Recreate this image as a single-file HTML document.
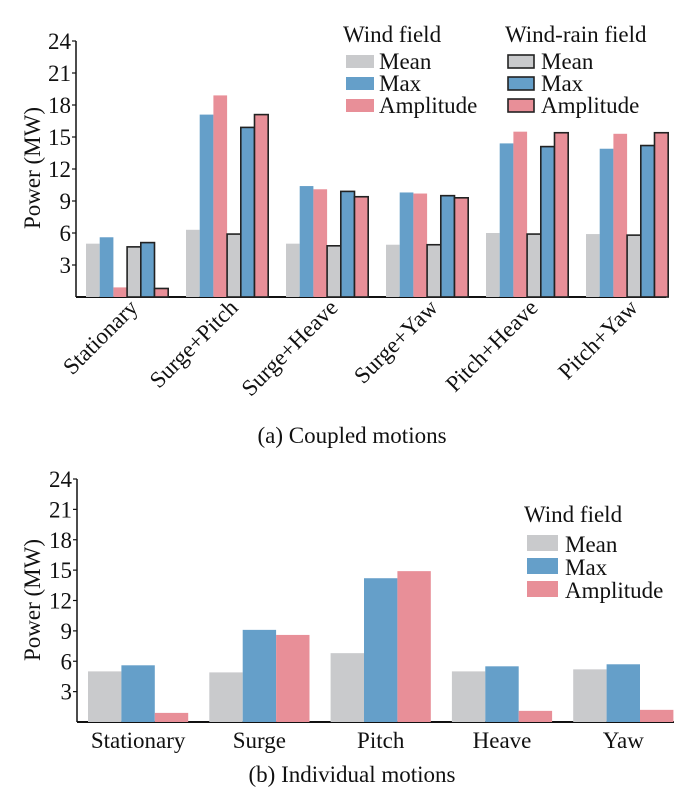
<!DOCTYPE html>
<html><head><meta charset="utf-8"><style>
body{margin:0;background:#fff;}
svg text{font-family:"Liberation Serif",serif;fill:#111;}
</style></head><body>
<svg id="c" width="682" height="791" viewBox="0 0 682 791" xmlns="http://www.w3.org/2000/svg"></svg>
<script>
const topCats=["Stationary","Surge+Pitch","Surge+Heave","Surge+Yaw","Pitch+Heave","Pitch+Yaw"];
const windMean=[5.0,6.3,5.0,4.9,6.0,5.9];
const windMax=[5.6,17.1,10.4,9.8,14.4,13.9];
const windAmp=[0.9,18.9,10.1,9.7,15.5,15.3];
const rainMean=[4.7,5.9,4.8,4.9,5.9,5.8];
const rainMax=[5.1,15.9,9.9,9.5,14.1,14.2];
const rainAmp=[0.8,17.1,9.4,9.3,15.4,15.4];
const botCats=["Stationary","Surge","Pitch","Heave","Yaw"];
const indMean=[5.0,4.9,6.8,5.0,5.2];
const indMax=[5.6,9.1,14.2,5.5,5.7];
const indAmp=[0.9,8.6,14.9,1.1,1.2];
const yTicks=[3,6,9,12,15,18,21,24];
const C={mean:"#c9cacc",max:"#659fc9",amp:"#e88f98"};
const svg=document.getElementById('c');
const NS="http://www.w3.org/2000/svg";
function el(t,a,p){const e=document.createElementNS(NS,t);for(const k in a)e.setAttribute(k,a[k]);(p||svg).appendChild(e);return e;}
function txt(s,a,p){const e=el('text',a,p);e.textContent=s;return e;}

function axes(g,x0,x1,y0,yTop){
  const y=v=>y0-(y0-yTop)*v/24;
  const ax=el('line',{x1:x0,y1:yTop,x2:x0,y2:y0,stroke:'#111','stroke-width':1.5},g);
  
  
  const bx=el('line',{x1:x0,y1:y0,x2:x1,y2:y0,stroke:'#111','stroke-width':2},g);
  
  
  yTicks.forEach(v=>{
    const tk=el('line',{x1:x0-4,y1:y(v),x2:x0,y2:y(v),stroke:'#111','stroke-width':1.2},g);
    
    
    const t=txt(String(v),{x:x0-5,y:y(v)+8,'font-size':23,'text-anchor':'end'},g);
    
    
  });
  return y;
}
function ytitle(g,x,cy){
  const t=txt("Power (MW)",{x:x,y:cy,'font-size':23,'text-anchor':'middle',transform:`rotate(-90 ${x} ${cy})`},g);
  
  
}
function bar(g,x,w,y,y0,fill,stroke,name){
  const a={x:x,y:y,width:w,height:y0-y,fill:fill};
  if(stroke){a.stroke='#222';a['stroke-width']=1.6;}
  const r=el('rect',a,g);
  
  
}
function legend(g,x,y,title,stroke,sw,sh,gap,tx){
  const t=txt(title,{x:x-3,y:y,'font-size':23},g);
  
  
  [["Mean",C.mean],["Max",C.max],["Amplitude",C.amp]].forEach((d,i)=>{
    const yy=y+13+i*gap;
    const a={x:x,y:yy,width:sw,height:sh,fill:d[1]};
    if(stroke){a.stroke='#222';a['stroke-width']=1.6;}
    const r=el('rect',a,g);
    
    
    const l=txt(d[0],{x:x+tx,y:yy+sh+1,'font-size':23},g);
    
    
  });
}

// Top chart
const gA=el('g',{});


const yA=axes(gA,76,666,297,41);
ytitle(gA,40,168);
const bw=13.7;
topCats.forEach((c,i)=>{
  const gx=86+i*100;
  const sets=[[windMean,C.mean,0],[windMax,C.max,0],[windAmp,C.amp,0],[rainMean,C.mean,1],[rainMax,C.max,1],[rainAmp,C.amp,1]];
  sets.forEach((s,j)=>bar(gA,gx+j*bw,bw,yA(s[0][i]),297,s[1],s[2],'bar-'+c.toLowerCase().replace('+','-')));
  const cx=gx+3*bw+12, cy=309;
  const t=txt(c,{x:cx,y:cy,'font-size':23,'text-anchor':'end',transform:`rotate(-45 ${cx} ${cy})`},gA);
  
  
});
legend(gA,346,42,"Wind field",false,28,13,22,33);
legend(gA,508,42,"Wind-rain field",true,26,13,22,33);
const capA=txt("(a) Coupled motions",{x:352,y:443,'font-size':23,'text-anchor':'middle'},gA);



// Bottom chart
const gB=el('g',{});


const yB=axes(gB,77,674,722,479);
ytitle(gB,40,600);
const bw2=33.4;
botCats.forEach((c,i)=>{
  const gx=88+i*121.3;
  [[indMean,C.mean],[indMax,C.max],[indAmp,C.amp]].forEach((s,j)=>bar(gB,gx+j*bw2,bw2,yB(s[0][i]),722,s[1],false,'bar-'+c.toLowerCase()));
  const t=txt(c,{x:gx+1.5*bw2,y:748,'font-size':23,'text-anchor':'middle'},gB);
  
  
});
legend(gB,527,522,"Wind field",false,31,16,23,38);
const capB=txt("(b) Individual motions",{x:352,y:782,'font-size':23,'text-anchor':'middle'},gB);


</script>
</body></html>
